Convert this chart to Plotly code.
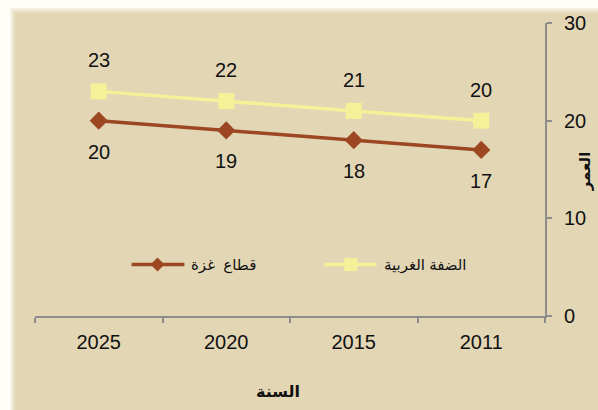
import plotly.graph_objects as go

years = ["2025", "2020", "2015", "2011"]
west_bank = [23, 22, 21, 20]
gaza = [20, 19, 18, 17]
name_wb = "الضفة الغربية"
name_gaza = "قطاع  غزة"
x_title = "السنة"
y_title = "العمر"

BG = "#E3D6B5"
WB_COLOR = "#F6F098"
GAZA_COLOR = "#9C4722"
AXIS = "#8C8C8C"
FONT = "Arial, Liberation Sans, DejaVu Sans, sans-serif"

L, R, T, B = 35, 51, 20, 94
W, H = 598, 410
PW, PH = W - L - R, H - T - B


def px_x(p):
    return (p - L) / PW


def px_y(p):
    return (H - B - p) / PH


xi = list(range(len(years)))

fig = go.Figure()
fig.add_trace(go.Scatter(
    x=xi, y=gaza, name=name_gaza, mode="lines+markers",
    line=dict(color=GAZA_COLOR, width=3.5),
    marker=dict(symbol="diamond", size=14, color=GAZA_COLOR),
    showlegend=False, hoverinfo="skip",
))
fig.add_trace(go.Scatter(
    x=xi, y=west_bank, name=name_wb, mode="lines+markers",
    line=dict(color=WB_COLOR, width=3.5),
    marker=dict(symbol="square", size=16, color=WB_COLOR),
    showlegend=False, hoverinfo="skip",
))

annotations = []
for xv, yv in zip(xi, west_bank):
    annotations.append(dict(x=xv, y=yv, text=str(yv), showarrow=False, yshift=31,
                            xanchor="center", yanchor="middle",
                            font=dict(size=20, color="#111", family=FONT)))
for xv, yv in zip(xi, gaza):
    annotations.append(dict(x=xv, y=yv, text=str(yv), showarrow=False, yshift=-31,
                            xanchor="center", yanchor="middle",
                            font=dict(size=20, color="#111", family=FONT)))
annotations.append(dict(x=px_x(279), y=px_y(392), xref="paper", yref="paper", text="<b>" + x_title + "</b>",
                        xanchor="center", yanchor="middle",
                        showarrow=False, font=dict(size=16, color="#111", family=FONT)))
annotations.append(dict(x=px_x(588), y=px_y(170), xref="paper", yref="paper", text="<b>" + y_title + "</b>",
                        xanchor="center", yanchor="middle",
                        showarrow=False, textangle=-90, font=dict(size=15, color="#111", family=FONT)))

shapes = []

# custom legend (line + marker + label) inside the plot area
LEG_Y = 264
legend_items = [
    (name_gaza, GAZA_COLOR, "diamond", 132, 185, 158, 190),
    (name_wb, WB_COLOR, "square", 325, 378, 352, 383),
]
for name, color, sym, lx0, lx1, mx, tx in legend_items:
    shapes.append(dict(type="line", xref="paper", yref="paper", x0=px_x(lx0), x1=px_x(lx1),
                       y0=px_y(LEG_Y), y1=px_y(LEG_Y), line=dict(color=color, width=3.5)))
    if sym == "diamond":
        h = 7
        path = "M{},{} L{},{} L{},{} L{},{} Z".format(
            px_x(mx - h), px_y(LEG_Y), px_x(mx), px_y(LEG_Y - h),
            px_x(mx + h), px_y(LEG_Y), px_x(mx), px_y(LEG_Y + h))
        shapes.append(dict(type="path", xref="paper", yref="paper", path=path,
                           fillcolor=color, line=dict(width=0)))
    else:
        h = 6.5
        shapes.append(dict(type="rect", xref="paper", yref="paper", x0=px_x(mx - h), x1=px_x(mx + h),
                           y0=px_y(LEG_Y + h), y1=px_y(LEG_Y - h), fillcolor=color, line=dict(width=0)))
    annotations.append(dict(x=px_x(tx), y=px_y(LEG_Y), xref="paper", yref="paper", text=name,
                            xanchor="left", yanchor="middle", showarrow=False,
                            font=dict(size=15, color="#111", family=FONT)))

# outer shadow frame (left and top edges)
shade = ["#FEFDF7", "#FBF8EE", "#F6F1E2", "#F0E9D6", "#EBE2CB", "#E7DCC1", "#E5D9BB"]
shapes.append(dict(type="rect", xref="paper", yref="paper", x0=px_x(-5), x1=px_x(10), y0=px_y(-5), y1=px_y(H + 5),
                   fillcolor=shade[0], line=dict(width=0), layer="below"))
shapes.append(dict(type="rect", xref="paper", yref="paper", x0=px_x(-5), x1=px_x(W + 5), y0=px_y(-5), y1=px_y(5),
                   fillcolor=shade[0], line=dict(width=0), layer="below"))
for i, c in enumerate(shade[1:]):
    shapes.append(dict(type="rect", xref="paper", yref="paper", x0=px_x(10 + i), x1=px_x(11 + i),
                       y0=px_y(5 + i), y1=px_y(H + 5), fillcolor=c, line=dict(width=0), layer="below"))
    shapes.append(dict(type="rect", xref="paper", yref="paper", x0=px_x(10 + i), x1=px_x(W + 5),
                       y0=px_y(5 + i), y1=px_y(6 + i), fillcolor=c, line=dict(width=0), layer="below"))

fig.update_layout(
    width=W, height=H,
    margin=dict(l=L, r=R, t=T, b=B),
    paper_bgcolor=BG, plot_bgcolor=BG,
    font=dict(family=FONT, size=16, color="#111"),
    showlegend=False,
    hovermode=False,
    xaxis=dict(type="linear", range=[-0.5, 3.5], showgrid=False, zeroline=False,
               tickmode="array", tickvals=xi, ticktext=years,
               showline=True, linecolor=AXIS, linewidth=2,
               ticks="", ticklabelstandoff=7,
               tickfont=dict(size=20, color="#111", family=FONT),
               minor=dict(tickmode="array", tickvals=[i - 0.5 for i in xi] + [len(xi) - 0.5],
                          ticks="outside", ticklen=5, tickcolor=AXIS, tickwidth=2, showgrid=False)),
    yaxis=dict(side="right", range=[0, 30], dtick=10, showgrid=False, zeroline=False,
               showline=True, linecolor=AXIS, linewidth=2,
               ticks="outside", ticklen=5, tickcolor=AXIS, tickwidth=2,
               ticklabelstandoff=8,
               tickfont=dict(size=20, color="#111", family=FONT)),
    annotations=annotations,
    shapes=shapes,
)

fig.write_html("out.html", config={"displayModeBar": False, "staticPlot": True},
               post_script="document.body.style.margin='0';")
